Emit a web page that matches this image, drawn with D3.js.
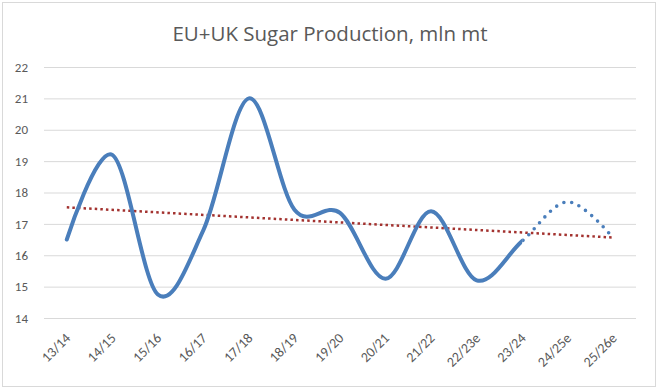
<!DOCTYPE html>
<html>
<head>
<meta charset="utf-8">
<script src="https://cdn.jsdelivr.net/npm/d3@7"></script>
<style>
  body { margin: 0; background: #fff; }
  #chart_container text { font-family: Calibri, Carlito, Lato, "Open Sans", sans-serif; }
</style>
</head>
<body>
<div id="chart_container"></div>
<script>
// data
const seasons = ["13/14", "14/15", "15/16", "16/17", "17/18", "18/19", "19/20",
                 "20/21", "21/22", "22/23e", "23/24", "24/25e", "25/26e"];
const production = [16.5, 19.2, 14.75, 16.8, 21.0, 17.45, 17.35,
                    15.25, 17.4, 15.2, 16.45, 17.7, 16.55];
const yTicks = [14, 15, 16, 17, 18, 19, 20, 21, 22];
const forecastFrom = "23/24";   // line turns dotted after this season

function renderChart() {
  d3.select("#chart_container").select("svg").remove();

  const W = 658, H = 389;
  const margin = { top: 67, right: 22, bottom: 71, left: 44 };
  const width = W - margin.left - margin.right;
  const height = H - margin.top - margin.bottom;

  const svg = d3.select("#chart_container")
    .append("svg")
    .attr("width", W)
    .attr("height", H);

  // outer frame
  svg.append("rect")
    .attr("x", 2.5).attr("y", 2.5)
    .attr("width", 653).attr("height", 384)
    .attr("fill", "#fff")
    .attr("stroke", "#d9d9d9");

  // title
  svg.append("text")
    .attr("x", 330)
    .attr("y", 41)
    .attr("text-anchor", "middle")
    .style("font-family", "'Open Sans', sans-serif")
    .style("font-size", "20.5px")
    .style("fill", "#595959")
    .text("EU+UK Sugar Production, mln mt");

  const chart = svg.append("g")
    .attr("transform", `translate(${margin.left},${margin.top})`);

  const x = d3.scalePoint()
    .domain(seasons)
    .range([0, width])
    .padding(0.5);

  const y = d3.scaleLinear()
    .domain([14, 22])
    .range([height, 0]);

  // Y axis + gridlines
  chart.append("g")
    .call(d3.axisLeft(y).tickValues(yTicks).tickSize(-width).tickPadding(16))
    .call(g => g.select(".domain").remove())
    .call(g => g.selectAll("line").attr("stroke", "#d9d9d9").attr("stroke-width", 1))
    .call(g => g.selectAll("text").style("font-size", "13px").style("fill", "#595959"));

  // X axis, rotated labels
  chart.append("g")
    .attr("transform", `translate(0,${height})`)
    .call(d3.axisBottom(x).tickSize(0).tickPadding(0))
    .call(g => g.select(".domain").remove())
    .selectAll("text")
    .attr("dy", null)
    .attr("transform", "translate(4,21) rotate(-45)")
    .style("text-anchor", "end")
    .style("font-size", "14px")
    .style("fill", "#595959");

  const pts = seasons.map((s, i) => [x(s), y(production[i])]);

  const line = d3.line().curve(d3.curveCardinal.tension(0));
  const splitX = x(forecastFrom);

  const defs = svg.append("defs");
  defs.append("clipPath").attr("id", "clip-actual")
    .append("rect").attr("x", -10).attr("y", -20).attr("width", splitX + 10).attr("height", height + 40);
  defs.append("clipPath").attr("id", "clip-forecast")
    .append("rect").attr("x", splitX).attr("y", -20).attr("width", width - splitX + 30).attr("height", height + 40);

  // trendline (least squares over the series)
  const n = production.length;
  const mi = (n - 1) / 2;
  const my = d3.mean(production);
  const slope = d3.sum(production, (v, i) => (i - mi) * (v - my)) / d3.sum(production, (v, i) => (i - mi) * (i - mi));
  const trend = seasons.map((s, i) => [x(s), y(my + slope * (i - mi))]);

  chart.append("path")
    .attr("d", d3.line()([trend[0], trend[n - 1]]))
    .attr("fill", "none")
    .attr("stroke", "#a3322f")
    .attr("stroke-width", 2.5)
    .attr("stroke-dasharray", "2.5 3.1");

  // actual series, solid
  chart.append("path")
    .attr("d", line(pts))
    .attr("clip-path", "url(#clip-actual)")
    .attr("fill", "none")
    .attr("stroke", "#4a7ebb")
    .attr("stroke-width", 4)
    .attr("stroke-linecap", "round");

  // estimate part, round dots
  chart.append("path")
    .attr("d", line(pts))
    .attr("clip-path", "url(#clip-forecast)")
    .attr("fill", "none")
    .attr("stroke", "#4a7ebb")
    .attr("stroke-width", 3.6)
    .attr("stroke-linecap", "round")
    .attr("stroke-dasharray", "0 8");
}

renderChart();
</script>
</body>
</html>
